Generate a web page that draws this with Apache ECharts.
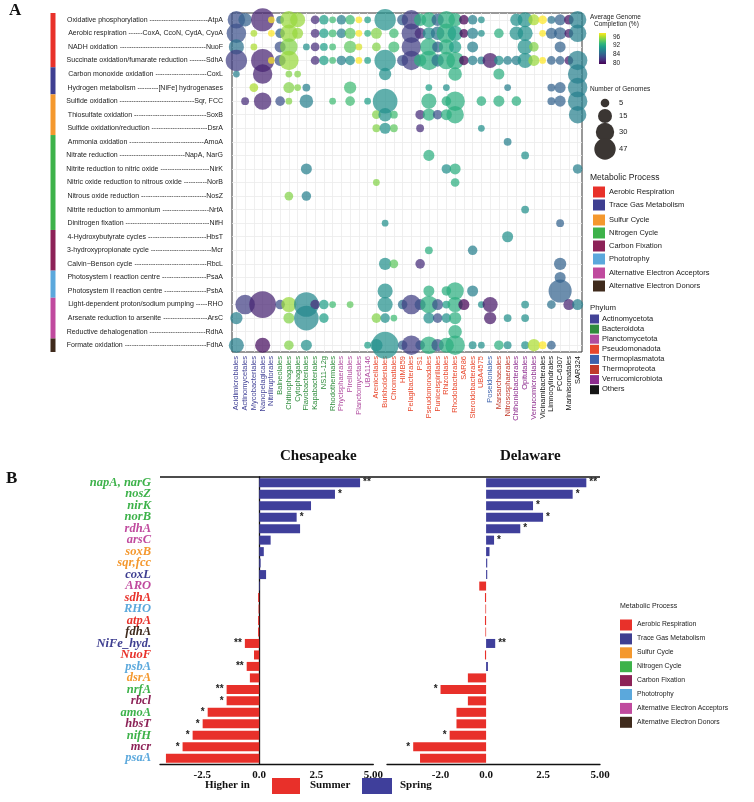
<!DOCTYPE html>
<html>
<head>
<meta charset="UTF-8">
<title>Metabolic potential by order and season</title>
<script src="https://cdn.jsdelivr.net/npm/echarts@6.0.0/dist/echarts.min.js"></script>
<style>
html, body { margin: 0; padding: 0; background: #fff; }
#main { width: 754px; height: 802px; }
</style>
</head>
<body>
<div id="main"></div>
<script>
// ---------- panel A : orders (columns) ----------
var orders = ['Acidimicrobiales', 'Actinomycetales', 'Mycobacteriales', 'Nanopelagicales', 'Nitriliruptorales',
  'Balneolales', 'Chitinophagales', 'Cytophagales', 'Flavobacteriales', 'Kapabacteriales', 'NS11-12g', 'Rhodothermales',
  'Phycisphaerales', 'Pirellulales', 'Planctomycetales', 'UBA1146',
  'Arenicellales', 'Burkholderiales', 'Chromatiales', 'HIMB59', 'Pelagibacterales', 'PS1', 'Pseudomonadales',
  'Puniceispirillales', 'Rhizobiales', 'Rhodobacterales', 'SAR86', 'Steroidobacterales', 'UBA4575',
  'Poseidoniales', 'Marsarchaeales', 'Nitrososphaerales', 'Chthoniobacterales', 'Opitutales', 'Verrucomicrobiales',
  'Vicinamibacterales', 'Limnocylindrales', 'PCC-6307', 'Marinisomatales', 'SAR324'];
var orderPhylum = [0, 0, 0, 0, 0, 1, 1, 1, 1, 1, 1, 1, 2, 2, 2, 2,
  3, 3, 3, 3, 3, 3, 3, 3, 3, 3, 3, 3, 3, 4, 5, 5, 6, 6, 6, 7, 7, 7, 7, 7];
var phyla = ['Actinomycetota', 'Bacteroidota', 'Planctomycetota', 'Pseudomonadota', 'Thermoplasmatota',
  'Thermoproteota', 'Verrucomicrobiota', 'Others'];
var phylumColors = ['#434397', '#2f8c3c', '#b04c9f', '#e8472c', '#3d62ad', '#c03a2b', '#8d2c8e', '#151515'];

// ---------- panel A : pathways (rows) ----------
var pathways = ['Oxidative phosphorylation', 'Aerobic respiration', 'NADH oxidation',
  'Succinate oxidation/fumarate reduction', 'Carbon monoxide oxidation', 'Hydrogen metabolism',
  'Sulfide oxidation', 'Thiosulfate oxidation', 'Sulfide oxidation/reduction', 'Ammonia oxidation',
  'Nitrate reduction', 'Nitrite reduction to nitric oxide', 'Nitric oxide reduction to nitrous oxide',
  'Nitrous oxide reduction', 'Nitrite reduction to ammonium', 'Dinitrogen fixation', '4-Hydroxybutyrate cycles',
  '3-hydroxypropionate cycle', 'Calvin\u2212Benson cycle', 'Photosystem I reaction centre',
  'Photosystem II reaction centre', 'Light-dependent proton/sodium pumping', 'Arsenate reduction to arsenite',
  'Reductive dehalogenation', 'Formate oxidation'];
var markers = ['AtpA', 'CoxA, CcoN, CydA, CyoA', 'NuoF', 'SdhA', 'CoxL', '[NiFe] hydrogenases', 'Sqr, FCC', 'SoxB',
  'DsrA', 'AmoA', 'NapA, NarG', 'NirK', 'NorB', 'NosZ', 'NrfA', 'NifH', 'HbsT', 'Mcr', 'RbcL', 'PsaA', 'PsbA',
  'RHO', 'ArsC', 'RdhA', 'FdhA'];

var processes = ['Aerobic Respiration', 'Trace Gas Metabolism', 'Sulfur Cycle', 'Nitrogen Cycle', 'Carbon Fixation',
  'Phototrophy', 'Alternative Electron Acceptors', 'Alternative Electron Donors'];
var processColors = ['#e8312a', '#3f3f91', '#f4982e', '#3db24a', '#8c2257', '#5ba8dc', '#c04a9e', '#3f2a1c'];
var processRowCount = [4, 2, 3, 7, 3, 2, 3, 1];

// bubbles per row: [order index, number of genomes, average completion %]
var rowAtpA = [[0, 20, 84], [1, 12, 85], [3, 35, 81.5], [4, 3, 96], [5, 4, 86], [6, 20, 93.5], [7, 15, 93.5],
  [9, 5, 82], [10, 6, 89], [11, 3, 91], [12, 6, 87], [13, 6, 91], [14, 3, 96], [15, 3, 89], [17, 30, 88],
  [19, 8, 85], [20, 25, 83], [21, 10, 90], [22, 15, 90], [23, 10, 85], [24, 20, 90], [25, 12, 90], [26, 6, 80],
  [27, 6, 87], [28, 3, 88], [32, 10, 88], [33, 15, 88], [34, 8, 94], [35, 5, 96], [36, 4, 86], [37, 8, 85],
  [38, 6, 80.5], [39, 20, 87]];
var rowCox = [[0, 25, 84], [2, 3, 94], [4, 3, 96], [5, 6, 85], [6, 20, 93.5], [7, 8, 93.5], [9, 5, 82],
  [10, 6, 89], [11, 4, 91], [12, 6, 87], [13, 8, 92], [14, 3, 96], [15, 3, 90], [16, 8, 93], [18, 6, 91],
  [20, 25, 83], [21, 8, 82], [22, 10, 88], [23, 12, 86], [24, 25, 90], [25, 15, 89], [26, 5, 80], [27, 8, 87],
  [28, 3, 88], [30, 6, 90], [32, 12, 88], [33, 15, 88], [35, 3, 96], [36, 8, 85], [37, 10, 85], [38, 5, 81],
  [39, 20, 87]];
var rowNuoF = [[0, 15, 86], [2, 3, 94], [5, 8, 84], [6, 20, 93], [8, 3, 88], [9, 5, 82], [10, 4, 89],
  [11, 3, 91], [13, 10, 92], [14, 3, 95], [16, 5, 93], [18, 8, 91], [20, 25, 83], [22, 20, 90], [23, 8, 85],
  [24, 15, 90], [25, 10, 89], [27, 8, 87], [33, 15, 88], [34, 6, 93], [37, 8, 85]];
var rowSdhA = [[0, 30, 83], [3, 35, 81.5], [4, 3, 96], [5, 8, 84], [6, 25, 93.5], [9, 5, 82], [10, 6, 89],
  [11, 3, 91], [12, 6, 87], [13, 6, 88], [14, 3, 96], [15, 3, 89], [17, 30, 88], [19, 8, 84], [20, 25, 83],
  [21, 10, 90], [22, 25, 90], [23, 10, 86], [24, 20, 90], [25, 20, 90], [26, 6, 80], [27, 6, 87], [28, 4, 87],
  [29, 15, 81], [30, 6, 88], [31, 5, 87], [32, 6, 87], [33, 15, 88], [34, 8, 93.5], [35, 3, 96], [36, 5, 85],
  [37, 5, 85], [38, 5, 81], [39, 25, 87]];
var rowCoxL = [[0, 3, 87], [3, 25, 81.5], [6, 3, 93], [7, 3, 93], [17, 10, 88], [25, 12, 90], [30, 8, 90],
  [39, 25, 87]];
var rowNiFe = [[2, 5, 94], [6, 8, 93], [7, 3, 93], [8, 4, 87], [13, 10, 91], [22, 3, 89], [24, 3, 88],
  [31, 3, 87], [36, 4, 85], [37, 8, 85], [39, 25, 87]];
var rowSqr = [[1, 4, 82], [3, 20, 81.5], [5, 6, 84], [6, 3, 93], [8, 12, 87], [11, 3, 91], [13, 6, 91],
  [15, 3, 89], [17, 40, 88], [22, 15, 90], [24, 6, 90], [25, 25, 90], [28, 6, 90], [30, 8, 90], [32, 6, 90],
  [36, 4, 85], [37, 8, 85], [39, 25, 87]];
var rowSoxB = [[16, 5, 93], [17, 12, 88], [18, 4, 91], [21, 6, 82], [22, 10, 90], [23, 6, 84], [24, 8, 90],
  [25, 20, 90], [39, 20, 87]];
var rowDsrA = [[16, 4, 93], [17, 8, 88], [18, 4, 92], [21, 4, 82], [28, 3, 88]];
var rowAmoA = [[31, 4, 87]];
var rowNapA = [[22, 8, 90], [33, 4, 88]];
var rowNirK = [[8, 8, 87], [24, 6, 88], [25, 8, 90], [39, 6, 87]];
var rowNorB = [[16, 3, 93], [25, 5, 90]];
var rowNosZ = [[6, 5, 93], [8, 6, 87]];
var rowNrfA = [[33, 4, 88]];
var rowNifH = [[17, 3, 88], [37, 4, 85]];
var rowHbsT = [[31, 8, 88]];
var rowMcr = [[22, 4, 90], [27, 6, 87]];
var rowRbcL = [[17, 10, 88], [18, 5, 92], [21, 6, 82], [37, 10, 85]];
var rowPsaA = [[37, 8, 85]];
var rowPsbA = [[17, 15, 88], [22, 8, 90], [24, 6, 90], [25, 20, 90], [27, 8, 87], [37, 35, 85]];
var rowRHO = [[1, 25, 83], [3, 47, 81.5], [5, 6, 84], [6, 15, 93.5], [8, 40, 87.5], [9, 6, 82], [10, 6, 89],
  [11, 3, 91], [13, 3, 92], [17, 15, 88], [19, 6, 86], [20, 25, 83], [21, 8, 84], [22, 20, 90], [23, 8, 84],
  [24, 4, 89], [25, 15, 90], [26, 8, 79.5], [28, 3, 88], [29, 15, 81], [33, 4, 88], [36, 5, 86], [38, 8, 81.5],
  [39, 8, 87]];
var rowArsC = [[0, 10, 87], [6, 8, 93], [8, 40, 87.5], [10, 6, 89], [16, 6, 93], [17, 6, 88], [18, 3, 91],
  [22, 8, 88], [23, 6, 84], [24, 6, 88], [25, 10, 90], [29, 10, 81], [31, 4, 88], [33, 4, 88]];
var rowRdhA = [[25, 12, 90]];
var rowFdhA = [[0, 15, 87], [3, 15, 80.5], [6, 6, 93], [8, 8, 88], [15, 3, 89], [16, 10, 88], [17, 47, 88],
  [19, 6, 85], [20, 25, 83], [21, 6, 84], [22, 20, 90], [23, 10, 84], [24, 15, 90], [25, 25, 90], [27, 4, 88],
  [28, 3, 88], [30, 6, 90], [31, 4, 88], [33, 4, 88], [34, 10, 94], [35, 4, 96], [36, 5, 85]];
var bubbleRows = [rowAtpA, rowCox, rowNuoF, rowSdhA, rowCoxL, rowNiFe, rowSqr, rowSoxB, rowDsrA, rowAmoA,
  rowNapA, rowNirK, rowNorB, rowNosZ, rowNrfA, rowNifH, rowHbsT, rowMcr, rowRbcL, rowPsaA, rowPsbA, rowRHO,
  rowArsC, rowRdhA, rowFdhA];

var completionTicks = ['96', '92', '84', '80'];
var genomeTicks = ['5', '15', '30', '47'];

// ---------- panel B : seasonal log fold change ----------
var genesB = ['napA, narG', 'nosZ', 'nirK', 'norB', 'rdhA', 'arsC', 'soxB', 'sqr,fcc', 'coxL', 'ARO', 'sdhA',
  'RHO', 'atpA', 'fdhA', 'NiFe_hyd.', 'NuoF', 'psbA', 'dsrA', 'nrfA', 'rbcl', 'amoA', 'hbsT', 'nifH', 'mcr', 'psaA'];
var geneProcess = [3, 3, 3, 3, 6, 6, 2, 2, 1, 6, 0, 5, 0, 7, 1, 0, 5, 2, 3, 4, 3, 4, 3, 4, 5];
var chesapeake = [4.42, 3.32, 2.27, 1.64, 1.79, 0.5, 0.2, 0.06, 0.3, 0.03, -0.05, -0.03, -0.05, -0.05, -0.63,
  -0.23, -0.55, -0.41, -1.43, -1.43, -2.26, -2.48, -2.92, -3.36, -4.09];
var chesapeakeSig = ['**', '*', '', '*', '', '', '', '', '', '', '', '', '', '', '**', '', '**', '', '**', '*',
  '*', '*', '*', '*', ''];
var delaware = [4.4, 3.8, 2.06, 2.5, 1.5, 0.35, 0.15, 0.05, 0.05, -0.3, -0.05, -0.03, -0.05, -0.03, 0.4, -0.05,
  0.08, -0.8, -2.0, -0.8, -1.3, -1.3, -1.6, -3.2, -2.9];
var delawareSig = ['**', '*', '*', '*', '*', '*', '', '', '', '', '', '', '', '', '**', '', '', '', '*', '', '',
  '', '*', '*', ''];
var chesTicks = [-2.5, 0, 2.5, 5];
var chesTickText = ['-2.5', '0.0', '2.5', '5.00'];
var delTicks = [-2, 0, 2.5, 5];
var delTickText = ['-2.0', '0.0', '2.5', '5.00'];
var seasons = ['Summer', 'Spring'];
var seasonColors = ['#e8302a', '#3f3f9b'];

var viridis = ['#440154', '#482878', '#3e4989', '#31688e', '#26828e', '#1f9e89', '#35b779', '#6ece58', '#b5de2b', '#fde725'];

// ---------- build ----------
var sans = '"Liberation Sans", Arial, sans-serif';
var serif = '"Liberation Serif", "Times New Roman", serif';

// row labels with dashed leaders
var meas = document.createElement('canvas').getContext('2d');
meas.font = '7px "Liberation Sans"';
var rowLabels = pathways.map(function (p, i) {
  var rest = 157 - meas.measureText(p + ' ' + markers[i]).width;
  var n = Math.max(2, Math.floor(rest / meas.measureText('-').width));
  return p + ' ' + '-'.repeat(n) + markers[i];
});

var bubbles = [];
bubbleRows.forEach(function (row, r) {
  row.forEach(function (b) { bubbles.push([b[0], r, b[1], b[2]]); });
});

function barItems(vals, sig) {
  return vals.map(function (v, i) {
    return {
      value: v,
      itemStyle: { color: v < 0 ? seasonColors[0] : seasonColors[1] },
      label: { position: v < 0 ? 'left' : 'right', formatter: sig[i] }
    };
  });
}

function t(txt, x, y, font, extra) {
  var s = { text: txt, font: font, fill: '#222' };
  if (extra) for (var k in extra) s[k] = extra[k];
  return { type: 'text', left: x, top: y, style: s, z: 10 };
}

var gfx = [];
gfx.push(t('A', 9, 2, 'bold 17px ' + serif, { fill: '#111' }));
gfx.push(t('B', 6, 470, 'bold 17px ' + serif, { fill: '#111' }));

// legend: completion colour bar
gfx.push(t('Average Genome', 590, 14, '6.5px ' + sans));
gfx.push(t('Completion (%)', 594, 21, '6.5px ' + sans));
gfx.push({
  type: 'rect', shape: { x: 599, y: 33, width: 7, height: 31 },
  style: { fill: new echarts.graphic.LinearGradient(0, 0, 0, 1, viridis.slice().reverse().map(function (c, i) {
    return { offset: i / (viridis.length - 1), color: c };
  })) }
});
[37, 45, 54, 63].forEach(function (y, i) { gfx.push(t(completionTicks[i], 613, y - 3.5, '6.5px ' + sans)); });

// legend: number of genomes
gfx.push(t('Number of Genomes', 590, 86, '6.5px ' + sans));
var sizeY = [103, 116, 132, 149], sizeR = [4.3, 7, 9.2, 10.7];
sizeY.forEach(function (y, i) {
  gfx.push({ type: 'circle', shape: { cx: 605, cy: y, r: sizeR[i] }, style: { fill: '#3b3633' } });
  gfx.push(t(genomeTicks[i], 619, y - 4.5, '7.5px ' + sans));
});

// legend: metabolic process (A)
gfx.push(t('Metabolic Process', 590, 173, '8.5px ' + sans));
var procY = [192, 205, 220, 233, 246, 259, 273, 286];
processes.forEach(function (p, i) {
  gfx.push({ type: 'rect', shape: { x: 593, y: procY[i] - 5.5, width: 12, height: 11 }, style: { fill: processColors[i] } });
  gfx.push(t(p, 609, procY[i] - 4.5, '7.5px ' + sans));
});

// legend: phylum
gfx.push(t('Phylum', 590, 304, '7.8px ' + sans));
phyla.forEach(function (p, i) {
  var y = 319 + i * 10.1;
  gfx.push({ type: 'rect', shape: { x: 590, y: y - 4.5, width: 9, height: 9 }, style: { fill: phylumColors[i] } });
  gfx.push(t(p, 602, y - 4.5, '7.5px ' + sans));
});

// panel B titles, frame and legends
gfx.push(t('Chesapeake', 280, 449, 'bold 15px ' + serif, { fill: '#111', align: 'center' }));
gfx.push(t('Delaware', 500, 449, 'bold 15px ' + serif, { fill: '#111', align: 'center' }));
gfx.push({ type: 'line', shape: { x1: 160, y1: 477, x2: 600, y2: 477 }, style: { stroke: '#111', lineWidth: 1.3 } });

gfx.push(t('Metabolic Process', 620, 603, '7px ' + sans));
processes.forEach(function (p, i) {
  var y = 625 + i * 13.9;
  gfx.push({ type: 'rect', shape: { x: 620, y: y - 5.5, width: 12, height: 11 }, style: { fill: processColors[i] } });
  gfx.push(t(p, 637, y - 4, '6.8px ' + sans));
});

gfx.push(t('Higher in', 205, 780, 'bold 11px ' + serif, { fill: '#111' }));
gfx.push({ type: 'rect', shape: { x: 272, y: 778, width: 28, height: 16 }, style: { fill: seasonColors[0] } });
gfx.push(t(seasons[0], 310, 780, 'bold 11px ' + serif, { fill: '#111' }));
gfx.push({ type: 'rect', shape: { x: 362, y: 778, width: 30, height: 16 }, style: { fill: seasonColors[1] } });
gfx.push(t(seasons[1], 400, 780, 'bold 11px ' + serif, { fill: '#111' }));

var chart = echarts.init(document.getElementById('main'));

var option = {
  animation: false,
  backgroundColor: '#fff',
  grid: [
    { left: 232, top: 13, width: 350, height: 339, show: true, borderColor: '#333', borderWidth: 1, backgroundColor: 'transparent' },
    { left: 160, top: 477, width: 213.3, height: 287 },
    { left: 387, top: 477, width: 213, height: 287 }
  ],
  visualMap: {
    type: 'continuous', show: false, seriesIndex: 0, dimension: 3, min: 80, max: 96,
    inRange: { color: viridis }
  },
  xAxis: [
    {
      gridIndex: 0, type: 'category', data: orders, position: 'bottom',
      axisLine: { show: false },
      axisTick: { alignWithLabel: true, length: 3, lineStyle: { color: '#333' } },
      axisLabel: {
        interval: 0, rotate: 90, fontSize: 7.5, fontFamily: sans, margin: 4,
        color: function (v) { return phylumColors[orderPhylum[orders.indexOf(v)]]; }
      },
      splitLine: { show: false }
    },
    {
      gridIndex: 0, type: 'value', min: 0, max: 80, interval: 1, position: 'top',
      axisLine: { show: false }, axisTick: { show: false }, axisLabel: { show: false },
      splitLine: { show: true, lineStyle: { color: ['rgba(0,0,0,0)', '#ebebeb'], width: 0.8 } }
    },
    {
      gridIndex: 1, type: 'value', min: -4.35, max: 5,
      axisLine: { show: true, lineStyle: { color: '#111', width: 1.3 } },
      axisTick: { show: false }, splitLine: { show: false },
      axisLabel: {
        customValues: chesTicks, fontFamily: serif, fontWeight: 'bold', fontSize: 11, color: '#111', margin: 6,
        formatter: function (v) { var k = chesTicks.indexOf(v); return k < 0 ? '' : chesTickText[k]; }
      }
    },
    {
      gridIndex: 2, type: 'value', min: -4.35, max: 5,
      axisLine: { show: true, lineStyle: { color: '#111', width: 1.3 } },
      axisTick: { show: false }, splitLine: { show: false },
      axisLabel: {
        customValues: delTicks, fontFamily: serif, fontWeight: 'bold', fontSize: 11, color: '#111', margin: 6,
        formatter: function (v) { var k = delTicks.indexOf(v); return k < 0 ? '' : delTickText[k]; }
      }
    }
  ],
  yAxis: [
    {
      gridIndex: 0, type: 'category', data: rowLabels, inverse: true,
      axisLine: { show: false },
      axisTick: { alignWithLabel: true, length: 4, lineStyle: { color: '#333' } },
      axisLabel: { interval: 0, fontSize: 7, fontFamily: sans, color: '#222', margin: 9 },
      splitLine: { show: false }
    },
    {
      gridIndex: 0, type: 'value', min: 0, max: 50, interval: 1, position: 'right', inverse: true,
      axisLine: { show: false }, axisTick: { show: false }, axisLabel: { show: false },
      splitLine: { show: true, lineStyle: { color: ['rgba(0,0,0,0)', '#ebebeb'], width: 0.8 } }
    },
    {
      gridIndex: 1, type: 'category', data: genesB, inverse: true,
      axisLine: { show: true, lineStyle: { color: '#111', width: 1.3 } },
      axisTick: { show: false },
      axisLabel: {
        interval: 0, fontFamily: serif, fontStyle: 'italic', fontWeight: 'bold', fontSize: 12.5, margin: 9,
        color: function (v) { return processColors[geneProcess[genesB.indexOf(v)]]; }
      }
    },
    {
      gridIndex: 2, type: 'category', data: genesB, inverse: true,
      axisLine: { show: false }, axisTick: { show: false }, axisLabel: { show: false }
    }
  ],
  series: [
    {
      name: 'genomes', type: 'scatter', xAxisIndex: 0, yAxisIndex: 0,
      data: bubbles,
      symbolSize: function (v) { return 3.9 * Math.sqrt(v[2]); },
      itemStyle: { opacity: 0.72 }
    },
    {
      name: 'Chesapeake', type: 'bar', xAxisIndex: 2, yAxisIndex: 2, barWidth: 9,
      data: barItems(chesapeake, chesapeakeSig),
      label: { show: true, distance: 3, fontSize: 10, fontWeight: 'bold', fontFamily: sans, color: '#222' }
    },
    {
      name: 'Delaware', type: 'bar', xAxisIndex: 3, yAxisIndex: 3, barWidth: 9,
      data: barItems(delaware, delawareSig),
      label: { show: true, distance: 3, fontSize: 10, fontWeight: 'bold', fontFamily: sans, color: '#222' }
    }
  ],
  graphic: gfx
};
chart.setOption(option);

// coloured process strip beside the row labels, from the row positions
var c0 = chart.convertToPixel({ yAxisIndex: 0 }, 0);
var c24 = chart.convertToPixel({ yAxisIndex: 0 }, 24);
var band = (c24 - c0) / 24;
var start = 0;
processRowCount.forEach(function (n, i) {
  gfx.push({
    type: 'rect', shape: { x: 50.5, y: c0 - band / 2 + start * band, width: 5, height: n * band },
    style: { fill: processColors[i] }
  });
  start += n;
});
chart.setOption({ graphic: gfx });
</script>
</body>
</html>
